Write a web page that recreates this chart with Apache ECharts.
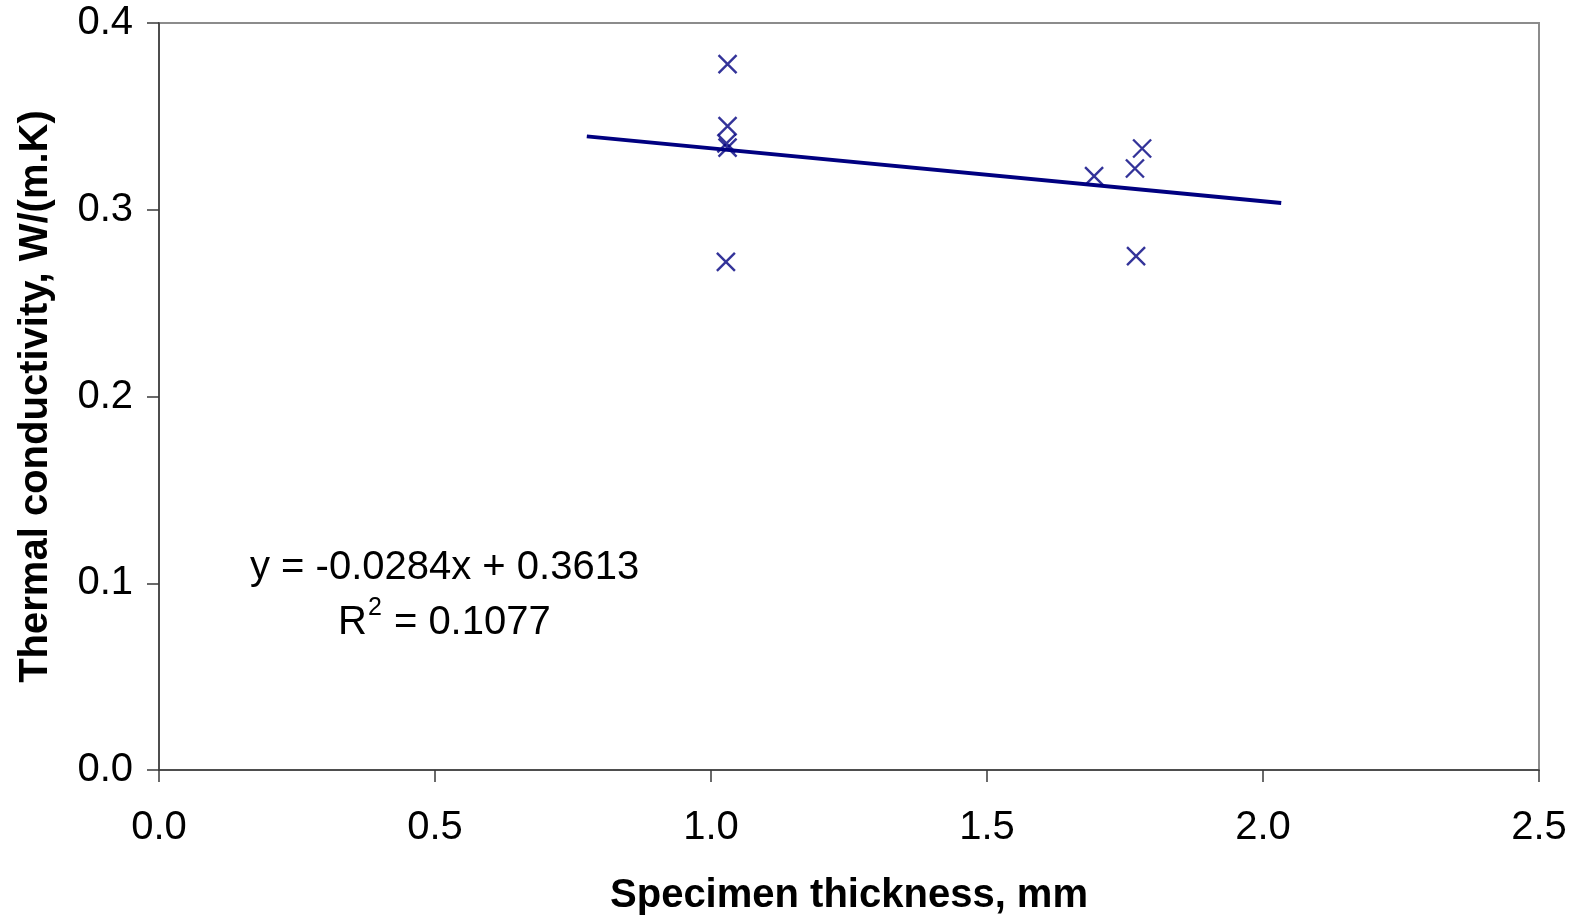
<!DOCTYPE html>
<html>
<head>
<meta charset="utf-8">
<title>Thermal conductivity vs specimen thickness</title>
<script src="https://cdn.jsdelivr.net/npm/echarts@6/dist/echarts.min.js"></script>
<style>
  html, body { margin: 0; padding: 0; background: #ffffff; }
  #chart { width: 1584px; height: 916px; }
</style>
</head>
<body>
<div id="chart"></div>
<script>
// Measured specimens: thickness (mm) and thermal conductivity (W/(m.K))
const thickness = [1.030, 1.030, 1.028, 1.030, 1.027, 1.694, 1.768, 1.781, 1.770];
const conductivity = [0.378, 0.3448, 0.3355, 0.3333, 0.2721, 0.318, 0.3221, 0.3328, 0.2752];

// Linear fit as reported on the chart
const fitSlope = -0.0284;
const fitIntercept = 0.3613;
const fitR2 = 0.1077;
const fitRange = [0.775, 2.033];

// Axis ticks
const xTicks = [0.0, 0.5, 1.0, 1.5, 2.0, 2.5];
const yTicks = [0.0, 0.1, 0.2, 0.3, 0.4];

const navy = '#000080';
const font = '"Liberation Sans", Arial, sans-serif';

const points = thickness.map((t, i) => [t, conductivity[i]]);
const fitLine = fitRange.map(x => [x, fitIntercept + fitSlope * x]);

const chart = echarts.init(document.getElementById('chart'), null, { renderer: 'canvas' });

const axisCommon = {
  axisLine: { show: true, lineStyle: { color: '#3a3a3a', width: 1.5 } },
  axisTick: { show: true, inside: false, length: 12, lineStyle: { color: '#3a3a3a', width: 1.5 } },
  splitLine: { show: false }
};

chart.setOption({
  animation: false,
  backgroundColor: '#ffffff',
  grid: {
    left: 159, right: 45, top: 23, bottom: 146,
    containLabel: false,
    outerBoundsMode: 'none',
    show: true, borderColor: '#8c8c8c', borderWidth: 2, backgroundColor: 'transparent'
  },
  xAxis: Object.assign({}, axisCommon, {
    type: 'value',
    min: xTicks[0], max: xTicks[xTicks.length - 1], interval: 0.5,
    name: 'Specimen thickness, mm',
    nameLocation: 'middle',
    nameGap: 106,
    nameTextStyle: { fontFamily: font, fontSize: 40, fontWeight: 'bold', color: '#000' },
    axisLabel: {
      margin: 38, fontFamily: font, fontSize: 40, color: '#000',
      formatter: v => v.toFixed(1)
    }
  }),
  yAxis: Object.assign({}, axisCommon, {
    type: 'value',
    min: yTicks[0], max: yTicks[yTicks.length - 1], interval: 0.1,
    name: 'Thermal conductivity, W/(m.K)',
    nameLocation: 'middle',
    nameGap: 103,
    nameRotate: 90,
    nameTextStyle: { fontFamily: font, fontSize: 40, fontWeight: 'bold', color: '#000' },
    axisLabel: {
      margin: 26, fontFamily: font, fontSize: 40, color: '#000',
      formatter: v => v.toFixed(1)
    }
  }),
  series: [
    {
      name: 'Fit',
      type: 'line',
      data: fitLine,
      showSymbol: false,
      symbol: 'none',
      lineStyle: { color: navy, width: 4 },
      z: 2
    },
    {
      name: 'Measured',
      type: 'scatter',
      data: points,
      symbol: 'path://M0,0L10,10M10,0L0,10',
      symbolSize: 18,
      itemStyle: { color: 'rgba(0,0,0,0)', borderColor: navy, borderWidth: 2.4 },
      z: 3
    }
  ],
  graphic: [
    {
      type: 'text',
      left: 250, top: 548,
      style: {
        text: 'y = ' + fitSlope.toFixed(4) + 'x + ' + fitIntercept.toFixed(4),
        fontFamily: font, fontSize: 40, fill: '#000'
      }
    },
    {
      type: 'text',
      left: 338, top: 596,
      style: {
        text: '{b|R}{s|2}{b| = ' + fitR2.toFixed(4) + '}',
        rich: {
          b: { fontFamily: font, fontSize: 40, fill: '#000', color: '#000', verticalAlign: 'bottom' },
          s: { fontFamily: font, fontSize: 25, fill: '#000', color: '#000', verticalAlign: 'top', padding: [0, 1, 22, 1] }
        }
      }
    }
  ]
});
</script>
</body>
</html>
